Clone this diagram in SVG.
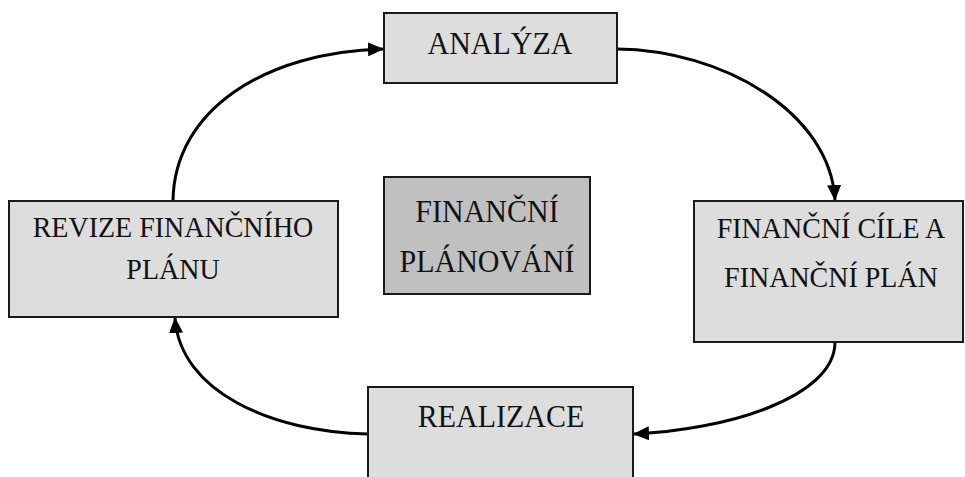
<svg xmlns="http://www.w3.org/2000/svg" width="965" height="477" viewBox="0 0 965 477">
<style>
.box{fill:#dddddd;stroke:#1a1a1a;stroke-width:2}
.dark{fill:#c0c0c0}
.t{font-family:"Liberation Serif","Times New Roman",serif;fill:#111;text-anchor:middle}
.l{font-size:30px}
.s{font-size:28px}
.c{fill:none;stroke:#000;stroke-width:3;marker-end:url(#arr)}
</style>
<defs>
<marker id="arr" markerUnits="userSpaceOnUse" markerWidth="16" markerHeight="14" refX="15" refY="7" orient="auto">
<path d="M0,0 L16,7 L0,14 Z" fill="#000"/>
</marker>
</defs>
<rect width="965" height="477" fill="#fff"/>
<g id="connectors">
<path class="c" d="M173,201 C174,110 265,52 383,49"/>
<path class="c" d="M617,49 C722,50 830,112 835,200"/>
<path class="c" d="M835,342 C835,398 725,430 634,434"/>
<path class="c" d="M368,434 C272,432 180,392 175,318"/>
</g>
<g id="analyza">
<rect class="box" x="384" y="13" width="233" height="70"/>
<text class="t l" transform="translate(500,54) scale(1,1.08)">ANALÝZA</text>
</g>
<g id="financni-planovani">
<rect class="box dark" x="384" y="177" width="206" height="117"/>
<text class="t l" transform="translate(487,222) scale(1,1.08)">FINANČNÍ</text>
<text class="t l" transform="translate(487,272) scale(1,1.08)">PLÁNOVÁNÍ</text>
</g>
<g id="revize">
<rect class="box" x="9" y="201" width="329" height="116"/>
<text class="t s" transform="translate(173,237) scale(1,1.08)">REVIZE FINANČNÍHO</text>
<text class="t s" transform="translate(173,279) scale(1,1.08)">PLÁNU</text>
</g>
<g id="cile">
<rect class="box" x="694" y="201" width="269" height="141"/>
<text class="t s" transform="translate(831,238) scale(1,1.08)">FINANČNÍ CÍLE A</text>
<text class="t s" transform="translate(831,287) scale(1,1.08)">FINANČNÍ PLÁN</text>
</g>
<g id="realizace">
<rect class="box" x="368" y="387" width="265" height="100"/>
<text class="t l" transform="translate(501,427) scale(1,1.08)">REALIZACE</text>
</g>
</svg>
